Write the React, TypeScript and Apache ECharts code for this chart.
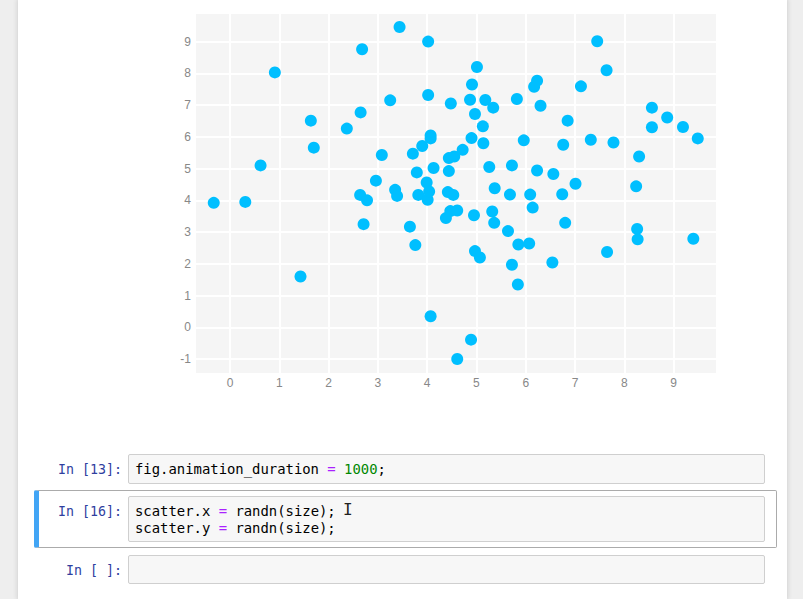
import { useEffect, useRef } from "react";
import * as echarts from "echarts";

// scatter points
const xValues = [
  -0.33, 0.31, 0.91, 0.62, 1.43, 1.64, 1.7, 2.37, 2.68, 2.65,
  2.64, 2.78, 2.71, 2.96, 3.08, 3.25, 3.44, 3.35, 3.39, 3.65,
  3.76, 3.71, 3.82, 3.79, 3.9, 4.02, 4.02, 4.07, 4.07, 3.99,
  4.01, 4.04, 4.13, 4.07, 4.44, 4.55, 4.44, 4.48, 4.42, 4.53,
  4.38, 4.47, 4.61, 4.61, 4.72, 4.87, 4.91, 5.01, 4.97, 4.9,
  4.95, 4.89, 4.97, 5.07, 5.18, 5.13, 5.14, 5.34, 5.26, 5.37,
  5.32, 5.36, 5.82, 5.96, 5.72, 5.68, 5.64, 5.72, 5.85, 5.84,
  6.07, 6.09, 6.14, 6.17, 6.23, 6.3, 6.23, 6.56, 6.54, 6.76,
  6.74, 6.8, 6.85, 7.01, 7.12, 7.32, 7.45, 7.64, 7.78, 7.65,
  8.24, 8.3, 8.26, 8.27, 8.56, 8.56, 8.87, 9.19, 9.4, 9.49,
];
const yValues = [
  3.92, 3.95, 8.03, 5.1, 1.6, 6.51, 5.66, 6.26, 8.76, 6.77,
  4.17, 4.0, 3.25, 4.62, 5.43, 7.15, 9.46, 4.33, 4.14, 3.17,
  2.59, 5.47, 4.17, 4.88, 5.71, 9.0, 7.32, 6.04, 5.95, 4.56,
  4.02, 4.28, 5.02, 0.35, 5.33, 5.38, 4.92, 7.05, 4.26, 4.17,
  3.44, 3.66, 3.68, -1.0, 5.59, 7.17, 7.65, 8.2, 6.72, 5.96,
  3.53, -0.39, 2.4, 2.2, 7.16, 6.33, 5.8, 6.92, 5.05, 4.38,
  3.65, 3.29, 7.19, 5.89, 5.1, 4.18, 3.03, 1.97, 2.61, 1.35,
  2.64, 4.18, 3.77, 7.58, 7.77, 6.98, 4.94, 4.83, 2.04, 5.75,
  4.19, 3.29, 6.51, 4.52, 7.59, 5.91, 9.01, 8.1, 5.82, 2.37,
  4.44, 5.38, 3.1, 2.77, 6.92, 6.3, 6.61, 6.31, 2.79, 5.95,
];
const xTicks = [0, 1, 2, 3, 4, 5, 6, 7, 8, 9];
const yTicks = [-1, 0, 1, 2, 3, 4, 5, 6, 7, 8, 9];

const mono = '"DejaVu Sans Mono", "Liberation Mono", monospace';

function ScatterChart() {
  const hostRef = useRef<HTMLDivElement>(null);

  useEffect(() => {
    const el = hostRef.current;
    if (!el) return;
    const chart = echarts.init(el, undefined, { renderer: "svg" });
    const label = {
      color: "#888",
      fontSize: 12,
      fontFamily: '"Liberation Sans", Arial, sans-serif',
    };

    chart.setOption({
      animation: false,
      grid: {
        left: 196,
        top: 14,
        width: 520,
        height: 359,
        show: true,
        backgroundColor: "#f5f5f5",
        borderWidth: 0,
      },
      xAxis: {
        type: "value",
        min: -0.69,
        max: 9.86,
        axisLine: { show: false },
        axisTick: { show: false, customValues: xTicks },
        axisLabel: { ...label, margin: 4, customValues: xTicks },
        splitLine: { lineStyle: { color: "#fff", width: 2 } },
      },
      yAxis: {
        type: "value",
        min: -1.44,
        max: 9.87,
        axisLine: { show: false },
        axisTick: { show: false, customValues: yTicks },
        axisLabel: { ...label, margin: 5, customValues: yTicks },
        splitLine: { lineStyle: { color: "#fff", width: 2 } },
      },
      series: [
        {
          type: "scatter",
          symbolSize: 12,
          itemStyle: { color: "#00bfff", opacity: 1 },
          data: xValues.map((x, i) => [x, yValues[i]]),
        },
      ],
    });

    return () => chart.dispose();
  }, []);

  return (
    <div
      ref={hostRef}
      style={{ position: "absolute", left: 0, top: 0, width: 803, height: 420 }}
    />
  );
}

const promptStyle: React.CSSProperties = {
  position: "absolute",
  width: 122,
  left: 0,
  textAlign: "right",
  fontFamily: mono,
  fontSize: 13.3,
  lineHeight: "17px",
  color: "#303f9f",
  whiteSpace: "pre",
};

const boxStyle: React.CSSProperties = {
  position: "absolute",
  left: 128,
  width: 635,
  background: "#f7f7f7",
  border: "1px solid #cfcfcf",
  borderRadius: 2,
  boxSizing: "content-box",
};

const codeStyle: React.CSSProperties = {
  position: "absolute",
  left: 135,
  fontFamily: mono,
  fontSize: 13.9,
  lineHeight: "17px",
  color: "#000",
  whiteSpace: "pre",
};

const op = { color: "#aa22ff" };

export default function App() {
  return (
    <div
      style={{
        position: "fixed",
        inset: 0,
        background: "#eeeeee",
        overflow: "hidden",
      }}
    >
      <div
        style={{
          position: "absolute",
          left: 18,
          top: 0,
          width: 769,
          height: 599,
          background: "#fff",
          boxShadow: "0 0 4px 1px rgba(87,87,87,0.18)",
        }}
      />
      <ScatterChart />

      {/* cell 13 */}
      <div style={{ ...promptStyle, top: 461 }}>In [13]:</div>
      <div style={{ ...boxStyle, top: 454, height: 28 }} />
      <div style={{ ...codeStyle, top: 461 }}>
        fig.animation_duration <span style={op}>=</span>{" "}
        <span style={{ color: "#008800" }}>1000</span>;
      </div>

      {/* cell 16, selected */}
      <div
        style={{
          position: "absolute",
          left: 34,
          top: 490,
          width: 737,
          height: 56,
          border: "1px solid #ababab",
          borderLeft: "5px solid #42a5f5",
          borderRadius: 2,
          boxSizing: "content-box",
        }}
      />
      <div style={{ ...promptStyle, top: 503 }}>In [16]:</div>
      <div style={{ ...boxStyle, top: 496, height: 44 }} />
      <div style={{ ...codeStyle, top: 503 }}>
        scatter.x <span style={op}>=</span> randn(size);
        {"\n"}
        scatter.y <span style={op}>=</span> randn(size);
      </div>
      <div
        style={{
          position: "absolute",
          left: 343,
          top: 501,
          fontFamily: mono,
          fontSize: 16,
          lineHeight: "18px",
          color: "#222",
          fontWeight: 300,
        }}
      >
        I
      </div>

      {/* empty cell */}
      <div style={{ ...promptStyle, top: 562 }}>In [ ]:</div>
      <div style={{ ...boxStyle, top: 555, height: 27 }} />
    </div>
  );
}
